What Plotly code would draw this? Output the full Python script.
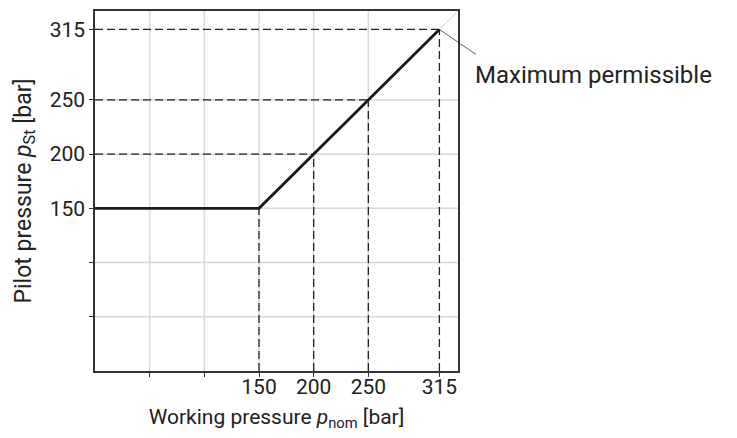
import plotly.graph_objects as go

# Data
curve_x = [0, 150, 315]
curve_y = [150, 150, 315]
mark_points = [150, 200, 250, 315]          # dashed guide points on the curve (x == y)
grid_vals = [50, 100, 150, 200, 250]
tick_vals = [150, 200, 250, 315]
tick_text = ["150", "200", "250", "315"]
minor_tick_vals = [50, 100]
diag_x = [315, 340]
diag_y = [315, 340]
annotation_text = "Maximum permissible"
x_title = "Working pressure <i>p</i><sub>nom</sub> [bar]"
y_title = "Pilot pressure <i>p</i><sub>St</sub> [bar]"

FONT = "Roboto"
TXT = "#222222"
DASH = "#222222"

fig = go.Figure()

# light diagonal beyond the maximum
fig.add_trace(go.Scatter(x=diag_x, y=diag_y, mode="lines",
                         line=dict(color="#cfcfcf", width=1), hoverinfo="skip", showlegend=False))

# dashed guides
for p in mark_points:
    if p != mark_points[0]:
        fig.add_trace(go.Scatter(x=[0, p], y=[p, p], mode="lines",
                                 line=dict(color=DASH, width=1.3, dash="8px,4px"),
                                 hoverinfo="skip", showlegend=False))
    fig.add_trace(go.Scatter(x=[p, p], y=[0, p], mode="lines",
                             line=dict(color=DASH, width=1.3, dash="8px,4px"),
                             hoverinfo="skip", showlegend=False))

# main curve
fig.add_trace(go.Scatter(x=curve_x, y=curve_y, mode="lines",
                         line=dict(color="#1a1a1a", width=2.8), hoverinfo="skip", showlegend=False))

axis_common = dict(
    range=[0, 332], showgrid=False, zeroline=False,
    showline=True, linecolor="#333333", linewidth=1.5, mirror=True,
    ticks="outside", ticklen=4, tickwidth=1, tickcolor="#333333",
    tickvals=tick_vals, ticktext=tick_text,
    tickfont=dict(family=FONT, size=21, color=TXT),
    minor=dict(tickvals=minor_tick_vals, ticks="outside", ticklen=4, tickwidth=1,
               tickcolor="#333333", showgrid=False),
)

grid_shapes = []
for g in grid_vals:
    grid_shapes.append(dict(type="line", xref="x", yref="paper", x0=g, x1=g, y0=0, y1=1,
                            line=dict(color="#d8d8d8", width=1.5), layer="below"))
    grid_shapes.append(dict(type="line", xref="paper", yref="y", x0=0, x1=1, y0=g, y1=g,
                            line=dict(color="#d8d8d8", width=1.5), layer="below"))

fig.update_layout(
    width=729, height=430,
    margin=dict(l=87, r=279, t=1, b=67),
    paper_bgcolor="white", plot_bgcolor="white",
    font=dict(family=FONT, size=21, color=TXT),
    xaxis=dict(**axis_common, ticklabelstandoff=-8,
               title=dict(text=x_title, font=dict(family=FONT, size=21, color=TXT), standoff=11)),
    yaxis=dict(**axis_common, title=dict(text=y_title, font=dict(family=FONT, size=23, color=TXT), standoff=12)),
    shapes=grid_shapes,
    annotations=[
        dict(x=315, y=315, xref="x", yref="y", text="", showarrow=True,
             arrowhead=0, arrowwidth=0.8, arrowcolor="#333333",
             axref="pixel", ayref="pixel", ax=38, ay=26, standoff=0, startstandoff=0),
        dict(x=1.041, y=0.822, xref="paper", yref="paper", text=annotation_text,
             showarrow=False, xanchor="left", yanchor="middle",
             font=dict(family=FONT, size=24, color=TXT)),
    ],
)

fig.write_html("out.html")
